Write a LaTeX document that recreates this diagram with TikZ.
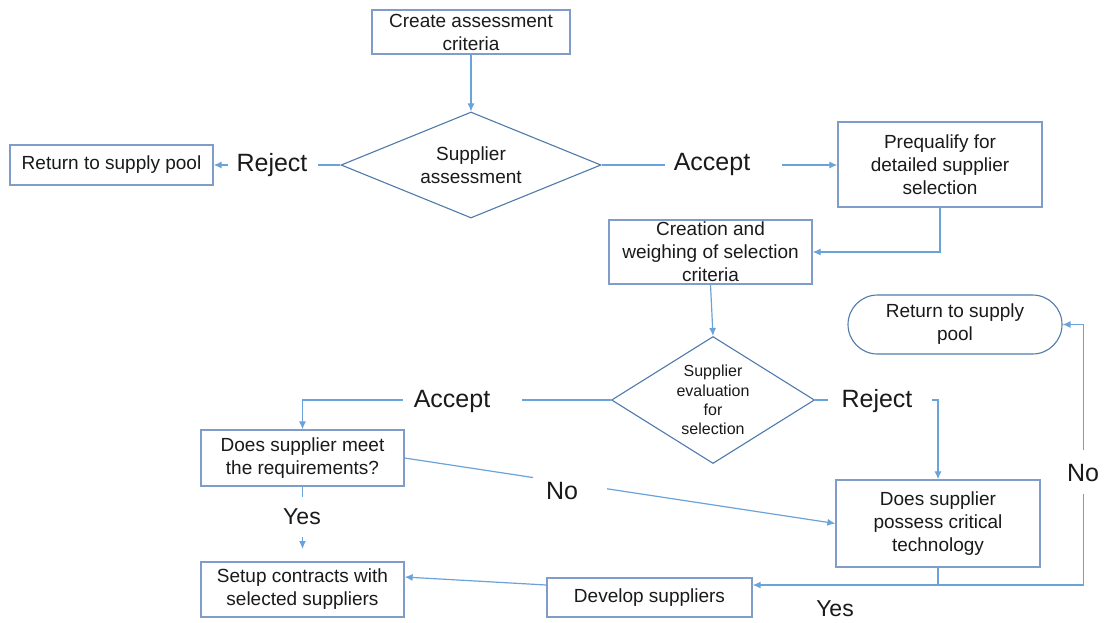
\documentclass[tikz,border=0pt]{standalone}
\usepackage{fontspec}
\setmainfont{Liberation Sans}
\usetikzlibrary{shapes.geometric,arrows.meta,calc}
\definecolor{boxline}{HTML}{7F9DC8}
\definecolor{flowline}{HTML}{6AA3DA}
\definecolor{decline}{HTML}{4F7BAA}
\definecolor{ink}{HTML}{1A1A1A}

\begin{document}
\begin{tikzpicture}[x=1pt,y=-1pt,
  every node/.style={text=ink},
  box/.style={draw=boxline,line width=1.3pt,fill=white,inner sep=0pt,align=center,
    font=\fontsize{19}{23}\selectfont},
  term/.style={box,draw=decline,line width=1.1pt,rounded corners=29.5pt},
  decision/.style={draw=decline,line width=1.1pt,fill=white,diamond,inner sep=0pt,align=center},
  tag/.style={font=\fontsize{25}{28}\selectfont,inner sep=0pt},
  flow/.style={draw=flowline,line width=1.2pt},
  arr/.style={flow,-{Latex[length=8pt,width=7pt]}}]

\fill[white] (0,0) rectangle (1105,622);
\useasboundingbox (0,0) rectangle (1105,622);

% process boxes
\node[box,minimum width=198pt,minimum height=44pt] (create) at (471,32)
  {Create assessment\\criteria};
\node[box,minimum width=203pt,minimum height=40pt] (ret1) at (111.5,165)
  {Return to supply pool};
\node[box,minimum width=204pt,minimum height=85pt] (preq) at (940,164.5)
  {Prequalify for\\detailed supplier\\selection};
\node[box,minimum width=203pt,minimum height=64pt] (creat) at (710.5,252)
  {Creation and\\weighing of selection\\criteria};
\node[term,minimum width=214pt,minimum height=59pt] (ret2) at (955,324.5)
  {Return to supply\\pool};
\node[box,minimum width=203pt,minimum height=56pt] (meet) at (302.5,458)
  {Does supplier meet\\the requirements?};
\node[box,minimum width=204pt,minimum height=87pt] (possess) at (938,523.5)
  {Does supplier\\possess critical\\technology};
\node[box,minimum width=203pt,minimum height=55pt] (setup) at (302.5,589.5)
  {Setup contracts with\\selected suppliers};
\node[box,minimum width=205pt,minimum height=39pt] (develop) at (649.5,597.5)
  {Develop suppliers};

% decisions
\node[decision,aspect=2.45,minimum width=260pt,minimum height=106pt,
  font=\fontsize{19}{23}\selectfont] (d1) at (471,165)
  {Supplier\\assessment};
\node[decision,aspect=1.6,minimum width=203pt,minimum height=127pt,
  font=\fontsize{16}{19.3}\selectfont] (d2) at (713,400)
  {Supplier\\evaluation\\for\\selection};

% branch labels
\node[tag] (rej1) at (272,165) {Reject};
\node[tag] (acc1) at (712,164) {Accept};
\node[tag] (acc2) at (452,401) {Accept};
\node[tag] (rej2) at (877,401) {Reject};
\node[tag,font=\fontsize{23}{26}\selectfont] (yes1) at (302,517) {Yes};
\node[tag] (no1) at (562,491) {No};
\node[tag] (no2) at (1083,473) {No};
\node[tag,font=\fontsize{23}{26}\selectfont] (yes2) at (835,609) {Yes};

% line ends around the labels
\coordinate (r1a) at (318,165);
\coordinate (r1b) at (228,165);
\coordinate (a1a) at (665,165);
\coordinate (a1b) at (782,165);
\coordinate (a2a) at (522,400);
\coordinate (a2b) at (403,400);
\coordinate (r2a) at (828,400);
\coordinate (r2b) at (932,400);
\coordinate (y1a) at (302.5,497);
\coordinate (y1b) at (302.5,537);
\coordinate (y1c) at (302.5,549);
\coordinate (n1a) at ($(meet.east)!0.298!(possess.west)$);
\coordinate (n1b) at ($(meet.east)!0.470!(possess.west)$);
\coordinate (join) at (938,585);
\coordinate (corner) at (1083.5,585);
\coordinate (n2a) at (1083.5,494);
\coordinate (n2b) at (1083.5,450);

% connectors
\draw[arr] (create.south) -- (d1.north);
\draw[flow] (d1.west) -- (r1a);
\draw[arr] (r1b) -- (ret1.east);
\draw[flow] (d1.east) -- (a1a);
\draw[arr] (a1b) -- (preq.west |- a1b);
\draw[arr] (preq.south) |- (creat.east);
\draw[arr] (creat.south) -- (d2.north);
\draw[flow] (d2.west) -- (a2a);
\draw[arr] (a2b) -| (meet.north);
\draw[flow] (d2.east) -- (r2a);
\draw[arr] (r2b) -| (possess.north);
\draw[flow] (meet.south) -- (y1a);
\draw[arr] (y1b) -- (y1c);
\draw[flow] (meet.east) -- (n1a);
\draw[arr] (n1b) -- (possess.west);
\draw[flow] (possess.south) -- (join);
\draw[arr] (corner) -- (develop.east |- join);
\draw[flow] (corner) -- (n2a);
\draw[arr] (n2b) |- (ret2.east);
\draw[arr] (develop.west |- join) -- ([yshift=12.5pt]setup.east);

\end{tikzpicture}
\end{document}
